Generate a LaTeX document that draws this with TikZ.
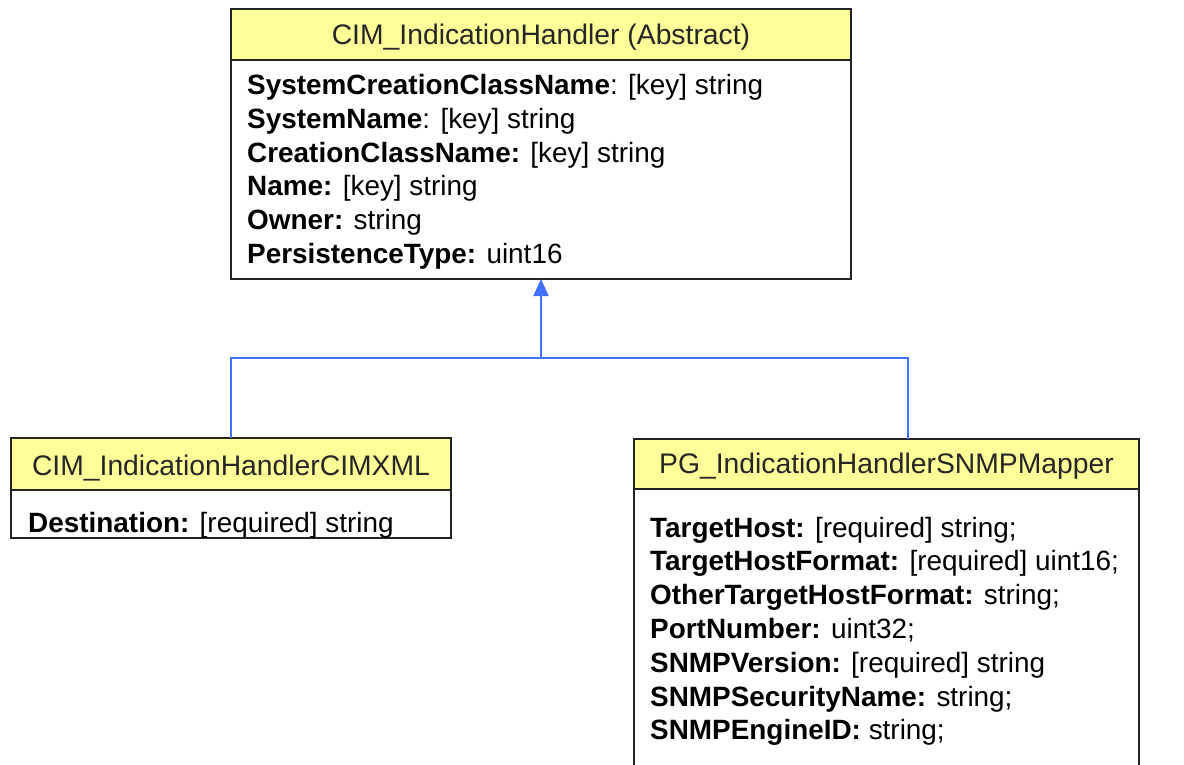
\documentclass[tikz,border=0pt]{standalone}
\usepackage{fontspec}
\setmainfont{Liberation Sans}
\usetikzlibrary{arrows.meta}
\definecolor{hdr}{RGB}{255,255,153}
\definecolor{link}{RGB}{66,112,255}
\definecolor{frame}{RGB}{35,35,35}
\tikzset{
  classbox/.style={draw=frame, line width=1.6pt, anchor=north west, inner sep=0pt, outer sep=0pt},
  hdrfill/.style={fill=hdr},
  divider/.style={draw=frame, line width=1.6pt},
  classname/.style={anchor=base, inner sep=0pt, font=\fontsize{28.3}{31}\selectfont, text=black!85},
  attr/.style={anchor=base west, inner sep=0pt, font=\fontsize{27.9}{31}\selectfont},
  conn/.style={draw=link, line width=2pt},
}
\begin{document}
\begin{tikzpicture}[x=1pt,y=-1pt]
\useasboundingbox (0,0) rectangle (1184,765);
\clip (0,0) rectangle (1184,765);
\fill[white] (0,0) rectangle (1184,765);

% abstract base class
\fill[hdrfill] (231,9) rectangle (851,60);
\node[classbox, minimum width=620pt, minimum height=270pt] (base) at (231,9) {};
\draw[divider] (231,60) -- (851,60);
\node[classname] (baseT) at (541,45) {CIM\_IndicationHandler (Abstract)};
\node[attr] (b1) at (247,95)  {\textbf{SystemCreationClassName}: [key] string};
\node[attr] (b2) at (247,128.6) {\textbf{SystemName}: [key] string};
\node[attr] (b3) at (247,162.2) {\textbf{CreationClassName:} [key] string};
\node[attr] (b4) at (247,195.8) {\textbf{Name:} [key] string};
\node[attr] (b5) at (247,229.4) {\textbf{Owner:} string};
\node[attr] (b6) at (247,263) {\textbf{PersistenceType:} uint16};

% CIM-XML handler
\fill[hdrfill] (11,438) rectangle (451,490);
\node[classbox, minimum width=440pt, minimum height=100pt] (xml) at (11,438) {};
\draw[divider] (11,490) -- (451,490);
\node[classname] (xmlT) at (231,475) {CIM\_IndicationHandlerCIMXML};
\node[attr] (x1) at (28,532) {\textbf{Destination:} [required] string};

% SNMP mapper handler
\fill[hdrfill] (634,439) rectangle (1139,489);
\node[classbox, minimum width=505pt, minimum height=380pt] (snmp) at (634,439) {};
\draw[divider] (634,489) -- (1139,489);
\node[classname] (snmpT) at (886.5,473) {PG\_IndicationHandlerSNMPMapper};
\node[attr] (s1) at (650,537) {\textbf{TargetHost:} [required] string;};
\node[attr] (s2) at (650,570.8) {\textbf{TargetHostFormat:} [required] uint16;};
\node[attr] (s3) at (650,604.6) {\textbf{OtherTargetHostFormat:} string;};
\node[attr] (s4) at (650,638.4) {\textbf{PortNumber:} uint32;};
\node[attr] (s5) at (650,672.2) {\textbf{SNMPVersion:} [required] string};
\node[attr] (s6) at (650,706) {\textbf{SNMPSecurityName:} string;};
\node[attr] (s7) at (650,739.8) {\textbf{SNMPEngineID:} string;};

% inheritance connectors
\coordinate (fork) at (541,358);
\coordinate (snmpIn) at (908,439);
\draw[conn] (xml.north) |- (fork);
\draw[conn] (snmpIn) |- (fork);
\draw[conn, -{Triangle[width=15pt,length=17pt]}] (fork) -- (base.south);
\end{tikzpicture}
\end{document}
